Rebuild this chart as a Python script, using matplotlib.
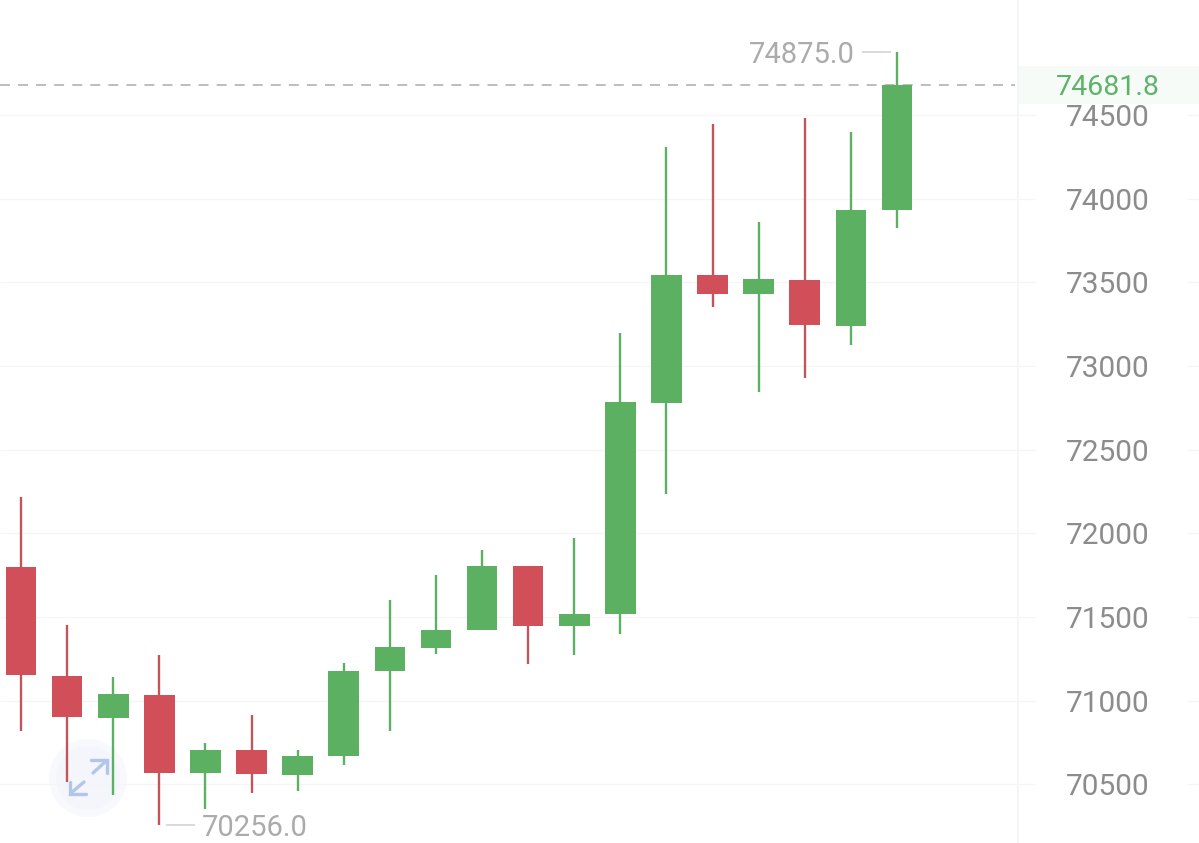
import matplotlib
matplotlib.use("Agg")
import matplotlib.pyplot as plt
from matplotlib.patches import Circle, Rectangle

plt.rcParams["font.family"] = ["Roboto", "DejaVu Sans"]

# OHLC, oldest candle first
highs = [72218, 71453, 71142, 71273, 70748, 70915, 70706, 71226, 71602, 71751,
         71901, 71805, 71973, 73197, 74309, 74446, 73861, 74482, 74398, 74875]
tops = [71799, 71148, 71040, 71034, 70706, 70706, 70670, 71178, 71321, 71423,
        71805, 71805, 71518, 72785, 73544, 73544, 73520, 73514, 73932, 74681.8]
bottoms = [71154, 70903, 70897, 70571, 70568, 70562, 70556, 70670, 71178, 71315,
           71423, 71447, 71447, 71518, 72780, 73430, 73430, 73245, 73239, 73932]
lows = [70819, 70515, 70437, 70256, 70353, 70449, 70461, 70616, 70819, 71279,
        71423, 71220, 71273, 71399, 72235, 73353, 72845, 72929, 73126, 73825]
rising = [0, 0, 1, 0, 1, 0, 1, 1, 1, 1, 1, 0, 1, 1, 1, 0, 1, 0, 1, 1]
y_ticks = [70500, 71000, 71500, 72000, 72500, 73000, 73500, 74000, 74500]
last_price = 74681.8
max_idx, max_price = 19, 74875.0
min_idx, min_price = 3, 70256.0

GREEN = "#5BB062"
RED = "#D14F59"
WICK_RED = "#C4545C"
W, H = 1199, 843

fig = plt.figure(figsize=(W / 100, H / 100), dpi=100)

# back layer in pixel coordinates: price panel and zoom button disc
back = fig.add_axes([0, 0, 1, 1], zorder=0)
back.set_xlim(0, W)
back.set_ylim(H, 0)
back.axis("off")
back.add_patch(Rectangle((1018, 66), 181, 38, color="#F6FBF7", lw=0))
back.axvline(1018, color="#F3F3F3", lw=1.1)
back.add_patch(Circle((88, 778), 39, color="#F7F9FD", lw=0))
back.add_patch(Circle((88, 778), 32, color="#F4F6FC", lw=0))

ax = fig.add_axes([0, 0, 1, 1], zorder=1)
ax.set_xlim(-0.4555, 25.55)
ax.set_ylim(70150, 75187)
ax.axis("off")
ax.patch.set_alpha(0)

# grid, broken around the axis labels
for t in y_ticks:
    ax.hlines(t, -0.4555, 22.0, color="#F5F5F5", lw=1, zorder=1)
    ax.hlines(t, 25.3, 25.55, color="#F5F5F5", lw=1, zorder=1)
    ax.text(23.57, t, str(t), ha="center", va="center_baseline", fontsize=21.5, color="#8C8C8C", zorder=2)

ax.hlines(last_price, -0.4555, 21.55, color="#B8B8B8", lw=1.3,
          linestyles=(0, (5.5, 4.5)), zorder=1)

# candles
for i in range(len(highs)):
    c = GREEN if rising[i] else RED
    wick = GREEN if rising[i] else WICK_RED
    ax.vlines(i, lows[i], highs[i], color=wick, lw=1.7, zorder=4)
    ax.bar(i, tops[i] - bottoms[i], bottom=bottoms[i], width=0.665, color=c, lw=0, zorder=5)

# high / low callouts
ax.hlines(max_price, max_idx - 0.76, max_idx - 0.13, color="#CFCFCF", lw=1.1, zorder=3)
ax.text(max_idx - 0.91, max_price, f"{max_price:.1f}", ha="right", va="center_baseline",
        fontsize=21, color="#ABABAB")
ax.hlines(min_price, min_idx + 0.14, min_idx + 0.77, color="#CFCFCF", lw=1.1, zorder=3)
ax.text(min_idx + 0.92, min_price, f"{min_price:.1f}", ha="left", va="center_baseline",
        fontsize=21, color="#ABABAB")

ax.text(23.57, last_price, f"{last_price:.1f}", ha="center", va="center_baseline",
        fontsize=20.5, color="#5DB368", zorder=6)

# zoom button arrows sit over the candles
top = fig.add_axes([0, 0, 1, 1], zorder=2)
top.set_xlim(0, W)
top.set_ylim(H, 0)
top.axis("off")
top.patch.set_alpha(0)
icon = dict(color="#B3C5EA", lw=2.4, solid_capstyle="round", solid_joinstyle="miter")
top.plot([93, 105], [773, 762], **icon)
top.plot([91, 107, 107], [760, 760, 773], **icon)
top.plot([84, 71], [782, 793], **icon)
top.plot([70, 70, 86], [782, 794, 794], **icon)

fig.savefig("out.png", dpi=100, facecolor="white")
